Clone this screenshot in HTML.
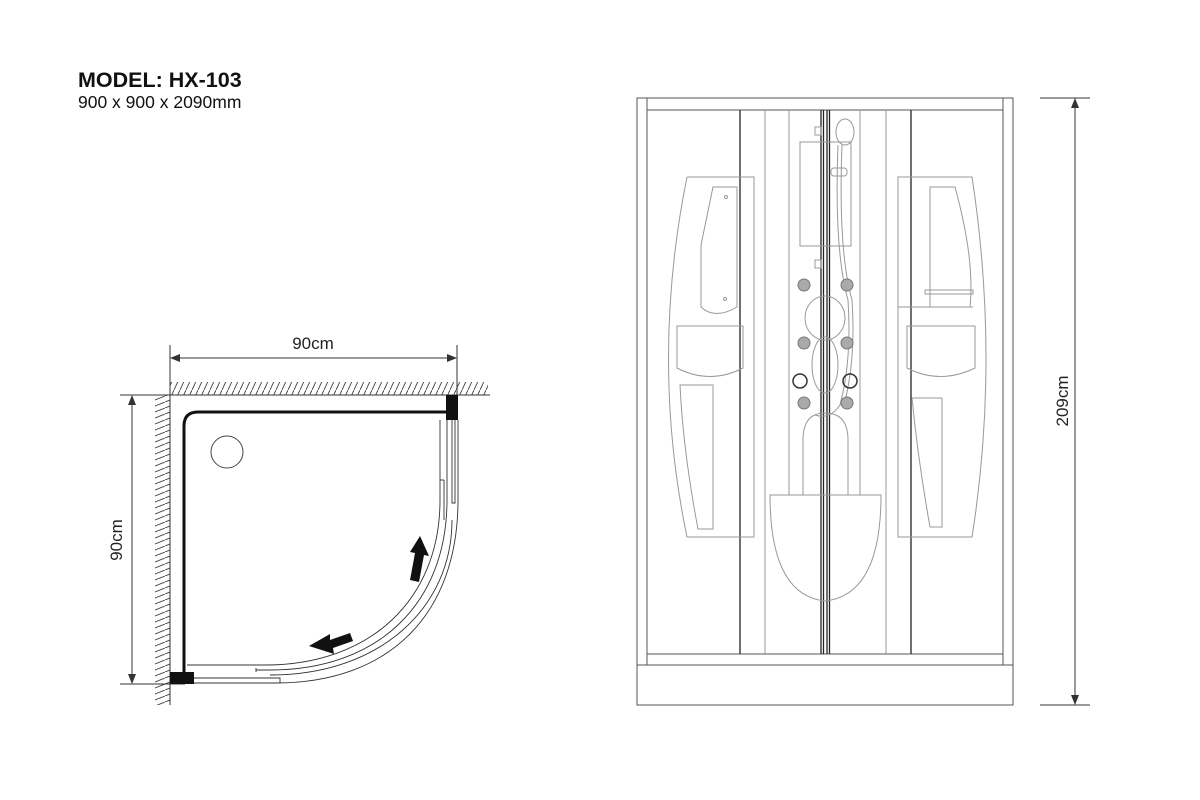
<!DOCTYPE html>
<html><head><meta charset="utf-8"><style>
html,body{margin:0;padding:0;background:#fff;width:1200px;height:800px;overflow:hidden}
svg{display:block}
text{font-family:"Liberation Sans",Arial,sans-serif}
</style></head><body>
<svg width="1200" height="800" viewBox="0 0 1200 800" xmlns="http://www.w3.org/2000/svg">
<defs>
<pattern id="h" width="6" height="13" patternUnits="userSpaceOnUse"><line x1="0" y1="13" x2="6" y2="0" stroke="#444" stroke-width="0.9"/></pattern>
<pattern id="hv" width="15" height="6" patternUnits="userSpaceOnUse"><line x1="0" y1="6" x2="15" y2="0" stroke="#444" stroke-width="0.9"/></pattern>
</defs>
<text x="78" y="87" font-size="21.5" font-weight="bold" fill="#111">MODEL: HX-103</text>
<text x="78" y="108" font-size="17.5" fill="#111">900 x 900 x 2090mm</text>

<!-- plan view -->
<rect x="170" y="382" width="318" height="13" fill="url(#h)"/>
<rect x="155" y="395" width="15" height="310" fill="url(#hv)"/>
<g stroke="#333" stroke-width="1" fill="none">
<line x1="155" y1="395" x2="490" y2="395"/>
<line x1="170" y1="385" x2="170" y2="705"/>
<line x1="170" y1="345" x2="170" y2="395"/>
<line x1="457" y1="345" x2="457" y2="395"/>
<line x1="172" y1="358" x2="455" y2="358"/>
<line x1="120" y1="395" x2="170" y2="395"/>
<line x1="120" y1="684" x2="185" y2="684"/>
<line x1="132" y1="397" x2="132" y2="682"/>
</g>
<path d="M170,358 l10,-4 v8z M457,358 l-10,-4 v8z M132,395 l-4,10 h8z M132,684 l-4,-10 h8z" fill="#333"/>
<text x="313" y="349" font-size="17" text-anchor="middle" fill="#222">90cm</text>
<text transform="translate(122,540) rotate(-90)" font-size="17" text-anchor="middle" fill="#222">90cm</text>
<path d="M184,672 L184,426 Q184,412 198,412 L447,412" stroke="#111" stroke-width="3" fill="none"/>
<rect x="446" y="395" width="12" height="25" fill="#111"/>
<rect x="170" y="672" width="24" height="12" fill="#111"/>
<circle cx="227" cy="452" r="16" stroke="#444" fill="none"/>
<g stroke="#333" stroke-width="0.9" fill="none">
<path d="M187,665 L265,665 C370,665 440,600 440,500 L440,420"/>
<path d="M256,670 L270,670 C378,670 447,604 447,500 L447,420"/>
<path d="M256,668 L256,672"/>
<path d="M194,678 L280,678 L280,683"/>
<path d="M194,683 L275,683 C392,683 458,612 458,500 L458,420"/>
<path d="M452,420 L452,503 L455,503 L455,420"/>
<path d="M444,480 L444,520"/>
<path d="M440,480 L444,480"/>
<path d="M270,675 C380,675 452,608 452,520"/>
</g>
<path d="M420,536 L429,556 L424,555 L419,582 L410,580 L415,553 L410,552z" fill="#111"/>
<path d="M309,646 L330,634 L330,640 L350,633 L353,641 L333,648 L334,654z" fill="#111"/>

<!-- elevation -->
<g stroke="#555" stroke-width="1" fill="none">
<rect x="637" y="98" width="376" height="607"/>
<line x1="637" y1="665" x2="1013" y2="665"/>
<line x1="647" y1="98" x2="647" y2="665"/>
<line x1="1003" y1="98" x2="1003" y2="665"/>
<line x1="647" y1="110" x2="1003" y2="110"/>
<line x1="647" y1="654" x2="1003" y2="654"/>
</g>
<g stroke="#222" stroke-width="1.3">
<line x1="740" y1="110" x2="740" y2="654"/>
<line x1="911" y1="110" x2="911" y2="654"/>
<line x1="821" y1="110" x2="821" y2="654"/>
<line x1="823.5" y1="110" x2="823.5" y2="654"/>
<line x1="827" y1="110" x2="827" y2="654"/>
<line x1="829.5" y1="110" x2="829.5" y2="654"/>
</g>
<g stroke="#999" stroke-width="1" fill="none">
<line x1="765" y1="110" x2="765" y2="654"/>
<line x1="886" y1="110" x2="886" y2="654"/>
<line x1="789" y1="110" x2="789" y2="495"/>
<line x1="860" y1="110" x2="860" y2="495"/>
<path d="M687,177 L754,177 L754,537 L687,537 Q650,360 687,177"/>
<path d="M713,187 L737,187 L737,307 Q715,320 701,307 L701,245z"/>
<circle cx="726" cy="197" r="1.5"/><circle cx="725" cy="299" r="1.5"/>
<path d="M677,326 L743,326 L743,368 Q710,385 677,368z"/>
<path d="M680,385 L713,385 L713,529 L698,529 Q683,450 680,385z"/>
<path d="M898,177 L972,177 Q1000,360 972,537 L898,537z"/>
<path d="M930,187 L955,187 Q975,260 970,307 L930,307z"/>
<rect x="925" y="290" width="48" height="4"/>
<path d="M898,307 L973,307"/>
<path d="M907,326 L975,326 L975,368 Q940,385 907,368z"/>
<path d="M912,398 L942,398 L942,527 L930,527 Q918,460 912,398z"/>
<rect x="800" y="142" width="51" height="104"/>
<rect x="815" y="127" width="6" height="8"/>
<rect x="815" y="260" width="6" height="8"/>
<ellipse cx="825" cy="318" rx="20" ry="22"/>
<ellipse cx="825" cy="365" rx="13" ry="28"/>
<path d="M803,495 L803,440 Q803,413 825,413 Q848,413 848,440 L848,495"/>
<path d="M770,495 L881,495 Q881,595 825,601 Q770,595 770,495z"/>
<path d="M838,145 Q834,250 848,300 Q852,360 840,405 Q830,420 815,415"/>
<path d="M842,145 Q838,250 852,300 Q856,360 844,405"/>
<ellipse cx="845" cy="132" rx="9" ry="13"/>
<rect x="831" y="168" width="16" height="8" rx="3"/>
</g>
<g fill="#aaa" stroke="#777" stroke-width="1">
<circle cx="804" cy="285" r="6"/><circle cx="847" cy="285" r="6"/>
<circle cx="804" cy="343" r="6"/><circle cx="847" cy="343" r="6"/>
<circle cx="804" cy="403" r="6"/><circle cx="847" cy="403" r="6"/>
</g>
<g fill="none" stroke="#333" stroke-width="1.5">
<circle cx="800" cy="381" r="7"/><circle cx="850" cy="381" r="7"/>
</g>
<g stroke="#333" stroke-width="1">
<line x1="1040" y1="98" x2="1090" y2="98"/>
<line x1="1040" y1="705" x2="1090" y2="705"/>
<line x1="1075" y1="100" x2="1075" y2="703"/>
</g>
<path d="M1075,98 l-4,10 h8z M1075,705 l-4,-10 h8z" fill="#333"/>
<text transform="translate(1068,401) rotate(-90)" font-size="17" text-anchor="middle" fill="#222">209cm</text>
</svg>
</body></html>
